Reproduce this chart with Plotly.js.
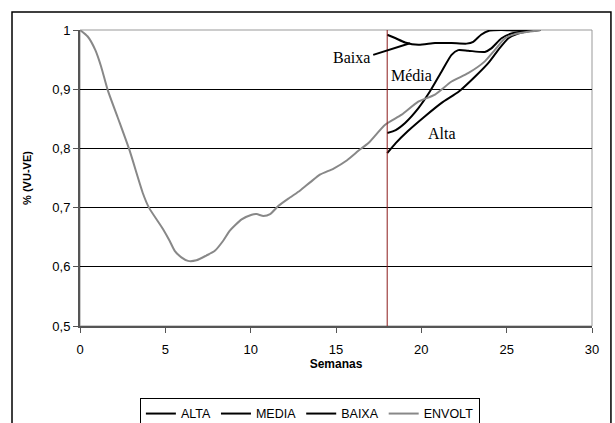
<!DOCTYPE html>
<html>
<head>
<meta charset="utf-8">
<script src="https://cdn.plot.ly/plotly-3.0.1.min.js"></script>
<style>
html,body{margin:0;padding:0;background:#fff;}
#chart{width:615px;height:423px;}
</style>
</head>
<body>
<div id="chart"></div>
<script>
// ENVOLT (envelope) series
var envoltX = [0, 0.45, 0.9, 1.24, 1.63, 2.2, 2.9, 3.7, 4.04, 4.86, 5.25, 5.55, 5.94, 6.33, 6.82, 7.4, 7.9, 8.39, 8.78, 9.47, 10.06, 10.35, 10.75, 11.14, 11.63, 12.3, 12.9, 13.5, 14.08, 14.86, 15.65, 16.4, 16.9, 17.88, 18.85, 19.82, 20.8, 21.77, 22.74, 23.72, 24.3, 24.9, 25.47, 26.25, 27.0];
var envoltY = [1.0, 0.989, 0.966, 0.938, 0.898, 0.853, 0.797, 0.723, 0.700, 0.664, 0.644, 0.627, 0.616, 0.610, 0.611, 0.619, 0.627, 0.644, 0.661, 0.680, 0.688, 0.689, 0.686, 0.689, 0.703, 0.717, 0.729, 0.743, 0.756, 0.766, 0.780, 0.798, 0.809, 0.840, 0.857, 0.879, 0.891, 0.913, 0.927, 0.947, 0.966, 0.986, 0.993, 0.997, 1.0];
// ALTA series
var altaX = [18, 18.5, 19.2, 20.2, 21.19, 22.2, 23.14, 23.92, 24.5, 25.1, 25.67, 26.6, 27.0];
var altaY = [0.792, 0.809, 0.829, 0.854, 0.877, 0.896, 0.921, 0.944, 0.966, 0.986, 0.994, 0.999, 1.0];
// MEDIA series
var mediaX = [18, 18.5, 19.05, 19.83, 20.5, 21.19, 21.77, 22.16, 22.74, 23.72, 24.1, 24.7, 25.28, 26.06, 27.0];
var mediaY = [0.826, 0.831, 0.843, 0.868, 0.896, 0.930, 0.958, 0.966, 0.965, 0.963, 0.969, 0.986, 0.994, 0.998, 1.0];
// BAIXA series
var baixaX = [18, 18.5, 19.05, 19.83, 20.8, 21.77, 22.65, 23.04, 23.5, 24.0, 24.7, 25.67, 26.8];
var baixaY = [0.992, 0.986, 0.979, 0.975, 0.978, 0.978, 0.977, 0.980, 0.992, 0.999, 1.0, 0.999, 1.0];

var seriesNames = ['ALTA', 'MEDIA', 'BAIXA', 'ENVOLT'];
var xTicks = [0, 5, 10, 15, 20, 25, 30];
var yTicks = [0.5, 0.6, 0.7, 0.8, 0.9, 1];
var markerWeek = 18;

var traces = [
  {x: altaX, y: altaY, name: seriesNames[0], mode: 'lines', line: {color: '#000', width: 2, shape: 'spline', smoothing: 0.6}},
  {x: mediaX, y: mediaY, name: seriesNames[1], mode: 'lines', line: {color: '#000', width: 2, shape: 'spline', smoothing: 0.6}},
  {x: baixaX, y: baixaY, name: seriesNames[2], mode: 'lines', line: {color: '#000', width: 2, shape: 'spline', smoothing: 0.6}},
  {x: envoltX, y: envoltY, name: seriesNames[3], mode: 'lines', line: {color: '#888888', width: 2, shape: 'spline', smoothing: 0.6}}
];

var serif = {family: 'Liberation Serif, Times New Roman, serif', size: 16, color: '#000'};

var layout = {
  width: 615, height: 423,
  margin: {l: 80, r: 23, t: 30, b: 97, autoexpand: false},
  paper_bgcolor: '#fff', plot_bgcolor: '#fff',
  separators: ',.',
  showlegend: true,
  font: {family: 'Liberation Sans, Arial, sans-serif', size: 13, color: '#000'},
  xaxis: {
    range: [0, 30], tickvals: xTicks, ticks: 'outside', ticklen: 5, tickcolor: '#555',
    showgrid: false, zeroline: false, showline: true, linecolor: '#555', linewidth: 2,
    tickfont: {size: 13}, ticklabelstandoff: 5, fixedrange: true,
    title: {text: '<b>Semanas</b>', font: {size: 12}, standoff: 3}
  },
  yaxis: {
    range: [0.5, 1], tickvals: yTicks, ticks: 'outside', ticklen: 5, tickcolor: '#555',
    showgrid: true, gridcolor: '#000', gridwidth: 1, zeroline: false,
    showline: true, linecolor: '#555', linewidth: 2, tickfont: {size: 13}, fixedrange: true,
    title: {text: '<b>% (VU-VE)</b>', font: {size: 11}, standoff: 18}
  },
  legend: {
    orientation: 'h', x: 0.449, xanchor: 'center', y: -0.243, yanchor: 'top',
    bordercolor: '#000', borderwidth: 1, bgcolor: '#fff',
    font: {size: 12.5}, itemwidth: 30, tracegroupgap: 0
  },
  shapes: [
    {type: 'line', xref: 'x', yref: 'paper', x0: markerWeek, x1: markerWeek, y0: 0, y1: 1, line: {color: '#8B1A1A', width: 1}},
    {type: 'line', xref: 'x', yref: 'y', x0: 17.18, y0: 0.958, x1: 19.33, y1: 0.9775, line: {color: '#000', width: 2}},
    {type: 'rect', xref: 'paper', yref: 'paper', x0: 1, x1: 0, y0: 0, y1: 1, line: {color: '#999', width: 1}, layer: 'below'},
    {type: 'rect', xref: 'paper', yref: 'paper', x0: -0.1328, x1: 1.037, y0: -0.5, y1: 1.061, line: {color: '#000', width: 1.5}}
  ],
  annotations: [
    {x: 17.09, y: 0.953, xref: 'x', yref: 'y', text: 'Baixa', showarrow: false, xanchor: 'right', font: serif},
    {x: 19.45, y: 0.923, xref: 'x', yref: 'y', text: 'Média', showarrow: false, font: serif},
    {x: 21.2, y: 0.825, xref: 'x', yref: 'y', text: 'Alta', showarrow: false, font: serif}
  ]
};

Plotly.newPlot('chart', traces, layout, {displayModeBar: false, staticPlot: true});
</script>
</body>
</html>
